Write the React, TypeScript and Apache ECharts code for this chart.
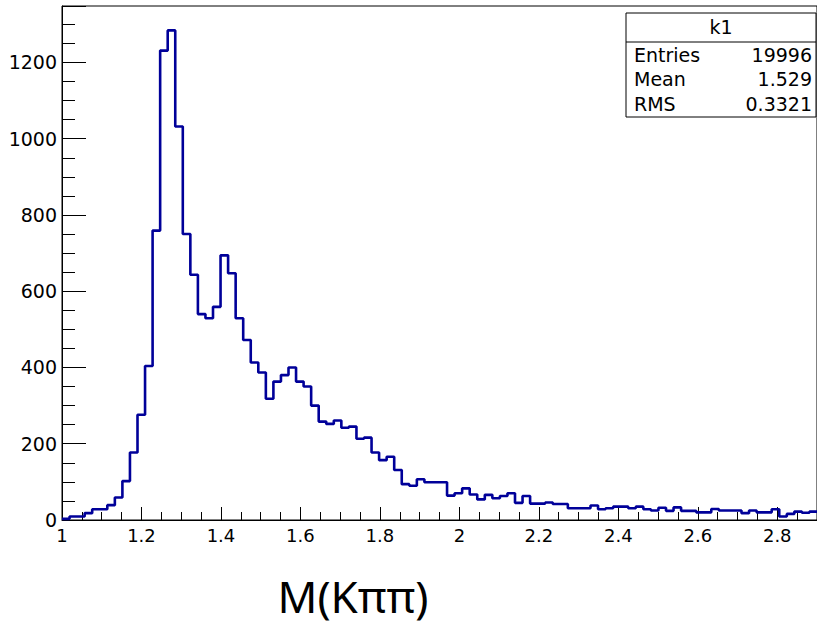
import React, { useEffect, useRef } from "react";
import * as echarts from "echarts";

// Histogram definition: 100 bins from 1.0 to 2.9
const BIN_START = 1.0;
const BIN_WIDTH = 0.019;
const COUNTS: number[] = [
  3, 9, 9, 18, 28, 28, 39, 59, 102, 177,
  276, 404, 759, 1231, 1284, 1032, 750, 643, 540, 529,
  559, 694, 647, 529, 472, 413, 387, 318, 363, 380,
  400, 363, 350, 300, 258, 252, 261, 242, 245, 213,
  216, 177, 157, 166, 131, 94, 90, 107, 99, 99,
  99, 64, 70, 83, 67, 54, 66, 57, 63, 70,
  45, 63, 43, 43, 46, 42, 42, 31, 31, 31,
  38, 28, 31, 35, 35, 31, 35, 28, 25, 32,
  24, 33, 24, 24, 20, 20, 29, 25, 25, 25,
  18, 25, 20, 20, 28, 9, 16, 22, 19, 22,
];

const X_MIN = 1;
const X_MAX = 2.9;
const Y_MAX = 1348;

const STATS_TITLE = "k1";
const STATS_LABELS = ["Entries", "Mean", "RMS"];
const STATS_VALUES = ["19996", "1.529", "0.3321"];
const X_TITLE = "M(K\u03c0\u03c0)";

const FONT = "DejaVu Sans";

export default function App() {
  const ref = useRef<HTMLDivElement>(null);

  useEffect(() => {
    if (!ref.current) return;
    const chart = echarts.init(ref.current, undefined, { renderer: "svg" });

    const points: number[][] = COUNTS.map((c, i) => [
      BIN_START + i * BIN_WIDTH,
      c,
    ]);
    points.push([BIN_START + COUNTS.length * BIN_WIDTH, COUNTS[COUNTS.length - 1]]);

    const rowY = [55, 79, 104];
    const statsGraphics: any[] = [
      {
        type: "rect",
        shape: { x: 626, y: 13, width: 190, height: 104 },
        style: { fill: "#fff", stroke: "#000", lineWidth: 1 },
        z: 100,
      },
      {
        type: "line",
        shape: { x1: 626, y1: 42, x2: 816, y2: 42 },
        style: { stroke: "#000", lineWidth: 1 },
        z: 101,
      },
      {
        type: "text",
        x: 721,
        y: 27,
        style: {
          text: STATS_TITLE,
          font: `19px '${FONT}'`,
          fill: "#000",
          align: "center",
          verticalAlign: "middle",
        },
        z: 101,
      },
    ];
    STATS_LABELS.forEach((lab, i) => {
      statsGraphics.push({
        type: "text",
        x: 634,
        y: rowY[i],
        style: {
          text: lab,
          font: `19px '${FONT}'`,
          fill: "#000",
          align: "left",
          verticalAlign: "middle",
        },
        z: 101,
      });
      statsGraphics.push({
        type: "text",
        x: 812,
        y: rowY[i],
        style: {
          text: STATS_VALUES[i],
          font: `19px '${FONT}'`,
          fill: "#000",
          align: "right",
          verticalAlign: "middle",
        },
        z: 101,
      });
    });

    chart.setOption({
      animation: false,
      backgroundColor: "#fff",
      grid: {
        left: 62,
        top: 6,
        width: 758,
        height: 514,
        show: true,
        borderColor: "#000",
        borderWidth: 1,
        backgroundColor: "transparent",
      },
      xAxis: {
        type: "value",
        min: X_MIN,
        max: X_MAX,
        interval: 0.2,
        axisLine: { show: true, onZero: false, lineStyle: { color: "#000", width: 1 } },
        axisTick: { show: true, inside: true, length: 13, lineStyle: { color: "#000", width: 1 } },
        minorTick: { show: true, splitNumber: 4, length: 8, lineStyle: { color: "#000", width: 1 } },
        splitLine: { show: false },
        axisLabel: {
          color: "#000",
          fontFamily: FONT,
          fontSize: 18,
          margin: 6,
          showMaxLabel: false,
          formatter: (v: number) => String(Number(v.toFixed(1))),
        },
      },
      yAxis: {
        type: "value",
        min: 0,
        max: Y_MAX,
        interval: 200,
        axisLine: { show: true, lineStyle: { color: "#000", width: 1 } },
        axisTick: { show: true, inside: true, length: 24, lineStyle: { color: "#000", width: 1 } },
        minorTick: { show: true, splitNumber: 4, length: 13, lineStyle: { color: "#000", width: 1 } },
        splitLine: { show: false },
        axisLabel: {
          color: "#000",
          fontFamily: FONT,
          fontSize: 19,
          margin: 5,
          showMaxLabel: false,
          formatter: (v: number) => (v % 200 === 0 ? String(v) : ""),
        },
      },
      series: [
        {
          type: "line",
          step: "end",
          data: points,
          symbol: "none",
          clip: true,
          lineStyle: { color: "#000099", width: 2.6 },
          z: 5,
        },
      ],
      graphic: [
        ...statsGraphics,
        {
          type: "text",
          x: 353,
          y: 596,
          style: {
            text: X_TITLE,
            font: `44px 'Noto Sans'`,
            lineHeight: 46,
            fill: "#000",
            align: "center",
            verticalAlign: "middle",
          },
        },
      ],
    });

    return () => chart.dispose();
  }, []);

  return (
    <div
      ref={ref}
      style={{ position: "fixed", left: 0, top: 0, width: 817, height: 625, background: "#fff" }}
    />
  );
}
